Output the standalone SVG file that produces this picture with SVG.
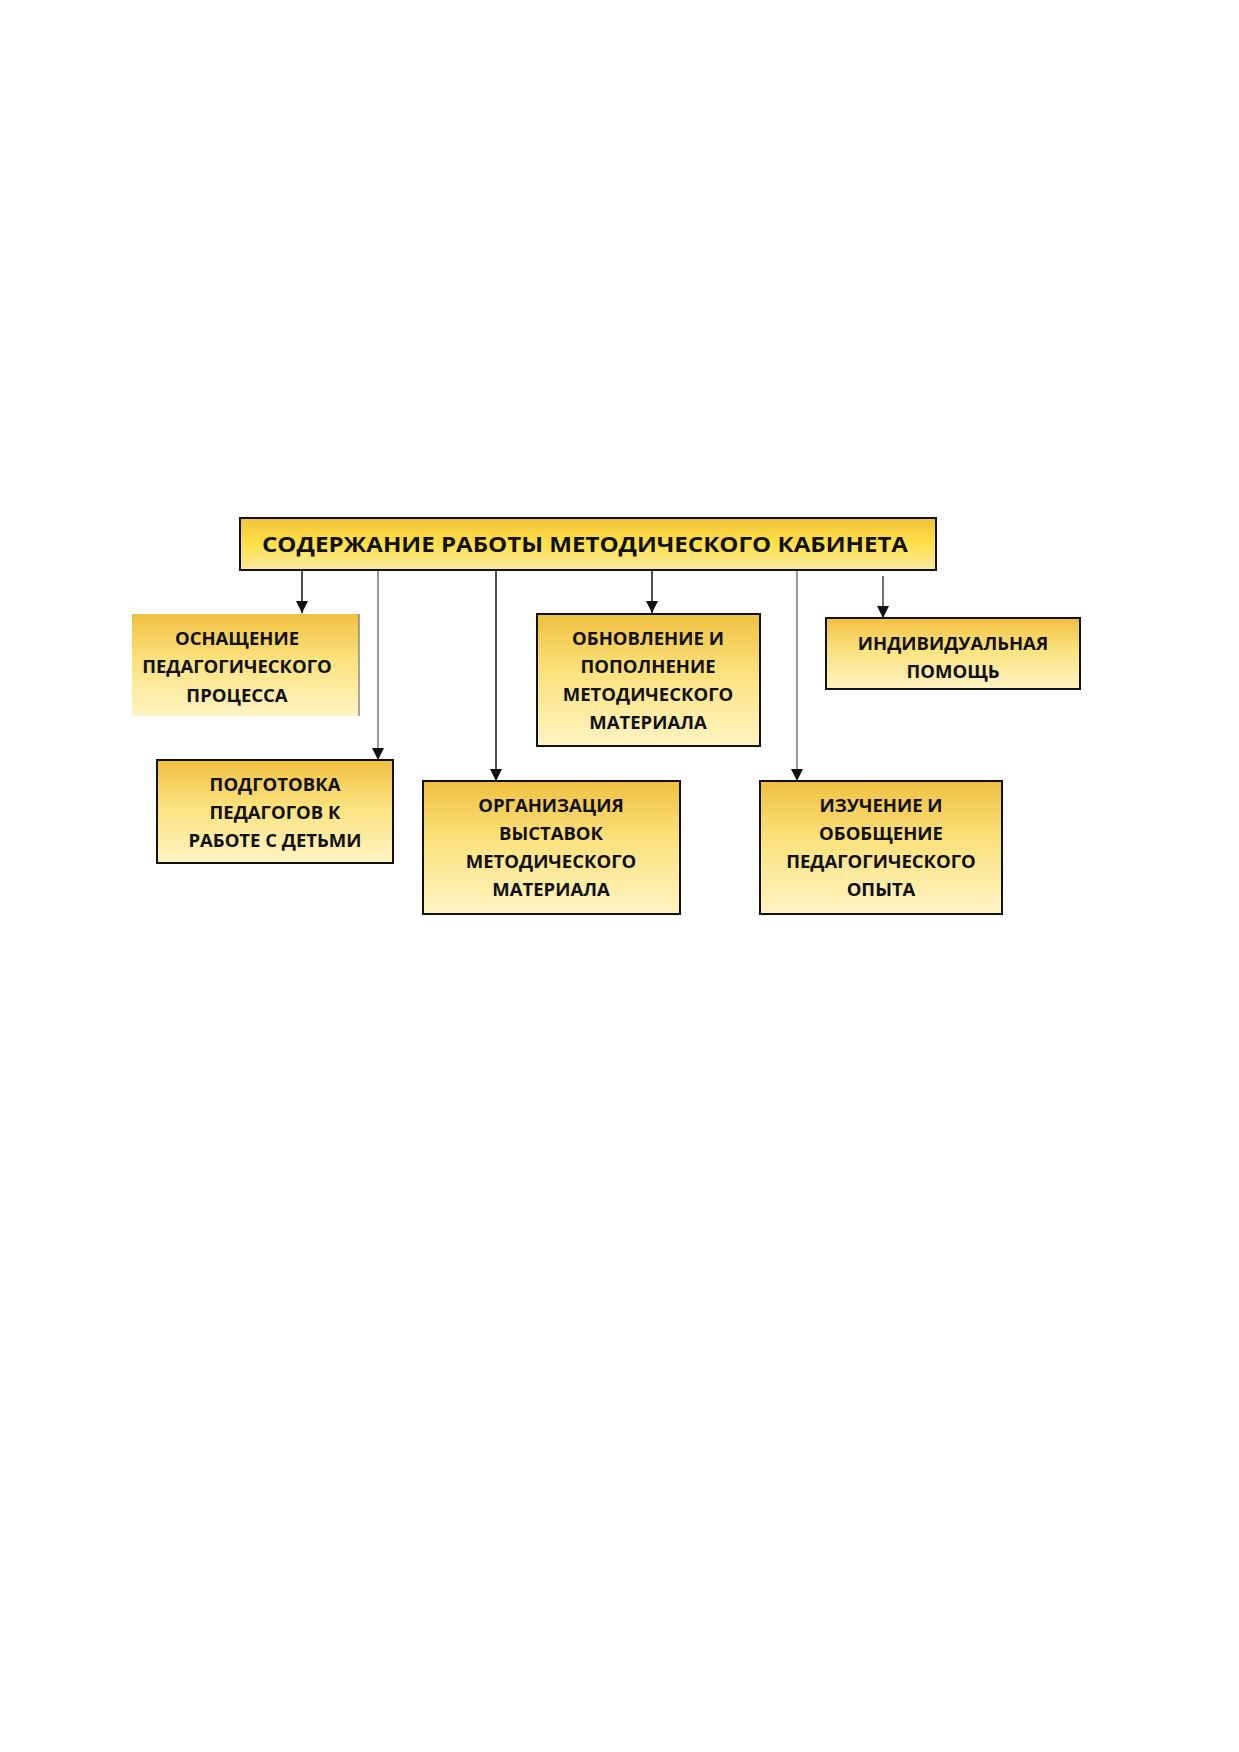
<svg xmlns="http://www.w3.org/2000/svg" width="1239" height="1752" viewBox="0 0 1239 1752">
<style>
.box{stroke:#111;stroke-width:2;fill:url(#g)}
.t{font-family:"Open Sans","Liberation Sans",sans-serif;font-weight:bold;font-size:18.5px;fill:#111;text-anchor:middle}
.c{stroke:#111;stroke-width:1.5;fill:none;marker-end:url(#a)}
.c2{stroke:#333;stroke-width:1;fill:none;marker-end:url(#a)}
</style>
<defs>
<linearGradient id="g" x1="0" y1="0" x2="0" y2="1">
<stop offset="0" stop-color="#f0c040"/>
<stop offset="0.45" stop-color="#fbe27e"/>
<stop offset="1" stop-color="#fff4c4"/>
</linearGradient>
<linearGradient id="gt" x1="0" y1="0" x2="0" y2="1">
<stop offset="0" stop-color="#f2c23a"/>
<stop offset="0.5" stop-color="#ffe14a"/>
<stop offset="1" stop-color="#fbe9a0"/>
</linearGradient>
<marker id="a" viewBox="0 0 10 10" refX="10" refY="5" markerWidth="13" markerHeight="12" markerUnits="userSpaceOnUse" orient="auto">
<path d="M0,0 L10,5 L0,10 z" fill="#111"/>
</marker>
</defs>
<rect width="1239" height="1752" fill="#fff"/>
<g id="connectors">
<line class="c" x1="302" y1="571" x2="302" y2="613"/>
<line class="c2" x1="378" y1="571" x2="378" y2="760"/>
<line class="c" x1="496" y1="571" x2="496" y2="781"/>
<line class="c" x1="652" y1="571" x2="652" y2="613"/>
<line class="c2" x1="797" y1="571" x2="797" y2="781"/>
<line class="c" x1="883" y1="576" x2="883" y2="618" style="stroke-width:1.2"/>
</g>
<g id="title">
<rect x="240" y="518" width="696" height="52" style="stroke:#111;stroke-width:2;fill:url(#gt)"/>
<text class="t" x="585" y="552" style="font-size:22px" textLength="646" lengthAdjust="spacingAndGlyphs">СОДЕРЖАНИЕ РАБОТЫ МЕТОДИЧЕСКОГО КАБИНЕТА</text>
</g>
<g id="n1">
<rect x="132" y="614" width="227" height="102" style="fill:url(#g)"/>
<line x1="359" y1="614" x2="359" y2="716" stroke="#555" stroke-width="1"/>
<text class="t" x="237" y="645">ОСНАЩЕНИЕ</text>
<text class="t" x="237" y="673">ПЕДАГОГИЧЕСКОГО</text>
<text class="t" x="237" y="702">ПРОЦЕССА</text>
</g>
<g id="n2">
<rect class="box" x="157" y="760" width="236" height="103"/>
<text class="t" x="275" y="791">ПОДГОТОВКА</text>
<text class="t" x="275" y="819">ПЕДАГОГОВ К</text>
<text class="t" x="275" y="847">РАБОТЕ С ДЕТЬМИ</text>
</g>
<g id="n3">
<rect class="box" x="423" y="781" width="257" height="133"/>
<text class="t" x="551" y="812">ОРГАНИЗАЦИЯ</text>
<text class="t" x="551" y="840">ВЫСТАВОК</text>
<text class="t" x="551" y="868">МЕТОДИЧЕСКОГО</text>
<text class="t" x="551" y="896">МАТЕРИАЛА</text>
</g>
<g id="n4">
<rect class="box" x="537" y="614" width="223" height="132"/>
<text class="t" x="648" y="645">ОБНОВЛЕНИЕ И</text>
<text class="t" x="648" y="673">ПОПОЛНЕНИЕ</text>
<text class="t" x="648" y="701">МЕТОДИЧЕСКОГО</text>
<text class="t" x="648" y="729">МАТЕРИАЛА</text>
</g>
<g id="n5">
<rect class="box" x="826" y="618" width="254" height="71"/>
<text class="t" x="953" y="650">ИНДИВИДУАЛЬНАЯ</text>
<text class="t" x="953" y="678">ПОМОЩЬ</text>
</g>
<g id="n6">
<rect class="box" x="760" y="781" width="242" height="133"/>
<text class="t" x="881" y="812">ИЗУЧЕНИЕ И</text>
<text class="t" x="881" y="840">ОБОБЩЕНИЕ</text>
<text class="t" x="881" y="868">ПЕДАГОГИЧЕСКОГО</text>
<text class="t" x="881" y="896">ОПЫТА</text>
</g>
</svg>
